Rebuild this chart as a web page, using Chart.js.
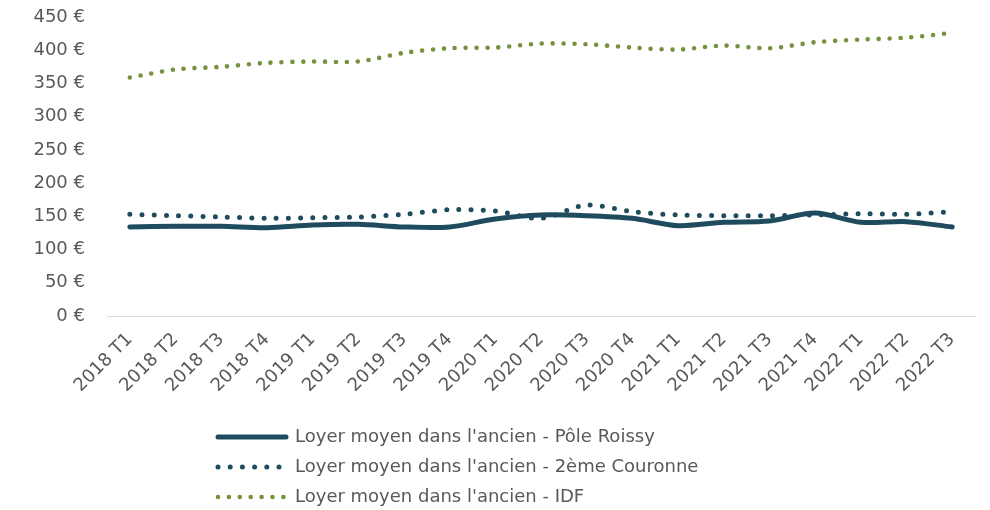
<!DOCTYPE html>
<html>
<head>
<meta charset="utf-8">
<script src="https://cdn.jsdelivr.net/npm/chart.js@4"></script>
<style>
  html, body { margin: 0; padding: 0; background: #fff; }
  #wrap { width: 990px; height: 510px; position: relative; }
</style>
</head>
<body>
<div id="wrap"><canvas id="c" width="990" height="510"></canvas></div>
<script>
const categories = ["2018 T1","2018 T2","2018 T3","2018 T4","2019 T1","2019 T2","2019 T3","2019 T4","2020 T1","2020 T2","2020 T3","2020 T4","2021 T1","2021 T2","2021 T3","2021 T4","2022 T1","2022 T2","2022 T3"];
const poleRoissy = [134, 135, 135, 133, 137, 138, 134, 134, 146, 152, 151, 147, 136, 141, 143, 155, 141, 142, 134];
const deuxiemeCouronne = [153, 151, 149, 147, 148, 149, 153, 160, 158, 147, 167, 157, 152, 151, 151, 152, 154, 153, 157];
const idf = [359, 371, 375, 381, 383, 383, 396, 403, 404, 410, 409, 404, 401, 407, 403, 412, 416, 419, 426];
const seriesNames = ["Loyer moyen dans l'ancien - Pôle Roissy", "Loyer moyen dans l'ancien - 2ème Couronne", "Loyer moyen dans l'ancien - IDF"];
const yTicks = [0, 50, 100, 150, 200, 250, 300, 350, 400, 450];

const FONT = "'DejaVu Sans', sans-serif";
const TXT = '#595959';

const legendPlacer = {
  id: 'legendPlacer',
  afterLayout(chart) {
    const lg = chart.legend;
    if (!lg) return;
    lg.left = 206;
    lg.right = 990;
    lg.top = 416;
    lg.bottom = 510;
  }
};

new Chart(document.getElementById('c'), {
  type: 'line',
  data: {
    labels: categories,
    datasets: [
      { label: seriesNames[0], data: poleRoissy, borderColor: '#1F4B5E', backgroundColor: '#1F4B5E', borderWidth: 5, borderCapStyle: 'round', borderJoinStyle: 'round', tension: 0.3, pointRadius: 0 },
      { label: seriesNames[1], data: deuxiemeCouronne, borderColor: '#1F4B5E', backgroundColor: '#1F4B5E', borderWidth: 5, borderDash: [0, 12.2], borderCapStyle: 'round', tension: 0.3, pointRadius: 0 },
      { label: seriesNames[2], data: idf, borderColor: '#76923C', backgroundColor: '#76923C', borderWidth: 4.6, borderDash: [0, 10.9], borderCapStyle: 'round', tension: 0.3, pointRadius: 0 }
    ]
  },
  options: {
    responsive: false,
    animation: false,
    devicePixelRatio: 1,
    layout: { padding: { left: 0, right: 15, top: 0, bottom: 0 } },
    plugins: {
      tooltip: { enabled: false },
      legend: {
        position: 'bottom',
        align: 'start',
        labels: {
          usePointStyle: true,
          pointStyle: 'line',
          pointStyleWidth: 68,
          padding: 12,
          color: TXT,
          font: { family: FONT, size: 18 },
          generateLabels(chart) {
            return chart.data.datasets.map((ds, i) => ({
              text: ds.label,
              fontColor: TXT,
              fillStyle: ds.borderColor,
              strokeStyle: ds.borderColor,
              lineWidth: ds.borderWidth,
              lineDash: ds.borderDash || [],
              lineDashOffset: 0,
              lineCap: 'round',
              lineJoin: 'round',
              pointStyle: 'line',
              rotation: 0,
              hidden: false,
              datasetIndex: i
            }));
          }
        }
      }
    },
    scales: {
      x: {
        offset: true,
        grid: { display: false },
        border: { display: true, color: '#D9D9D9', width: 1 },
        ticks: { color: TXT, font: { family: FONT, size: 18 }, minRotation: 45, maxRotation: 45, autoSkip: false, padding: 5 },
        afterFit(s) { const lh = s.chart.legend ? s.chart.legend.height : 0; s.height = 194 - lh; }
      },
      y: {
        min: 0, max: 450,
        afterBuildTicks(s) { s.ticks = yTicks.map(v => ({ value: v })); },
        grid: { display: false },
        border: { display: false },
        ticks: { color: TXT, font: { family: FONT, size: 18 }, padding: 14, callback: v => v + ' €' },
        afterFit(s) { s.width = 107; s.paddingTop = 17; s.paddingBottom = 0; }
      }
    }
  },
  plugins: [legendPlacer]
});
</script>
</body>
</html>
